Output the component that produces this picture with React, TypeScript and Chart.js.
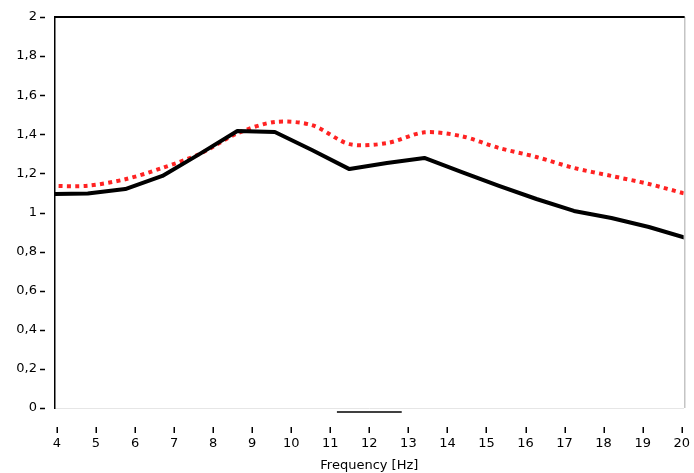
import React, { useEffect, useRef } from 'react';
import { Chart, registerables } from 'chart.js';

Chart.register(...registerables);

// Frequencies (Hz) of the sample points
const FREQ_HZ = [3.83, 4.79, 5.75, 6.70, 7.66, 8.62, 9.58, 10.53, 11.49, 12.45, 13.41, 14.37, 15.32, 16.28, 17.24, 18.20, 19.16, 20.11];
// Solid black series
const SOLID_BLACK = [1.095, 1.097, 1.12, 1.187, 1.30, 1.417, 1.412, 1.32, 1.222, 1.253, 1.279, 1.207, 1.136, 1.069, 1.008, 0.972, 0.926, 0.87];
// Dotted red series
const DOTTED_RED = [1.136, 1.137, 1.17, 1.228, 1.30, 1.405, 1.463, 1.447, 1.35, 1.355, 1.41, 1.39, 1.33, 1.284, 1.228, 1.187, 1.146, 1.095];
// Small black bar under the plot
const BAR_X = [11.17, 12.83];
const BAR_Y = [-0.02, -0.02];

const X_MIN = 3.95;
const X_MAX = 20.05;
const Y_MIN = 0;
const Y_MAX = 2;
const Y_STEP = 0.2;
const X_STEP = 1;
const X_TITLE = 'Frequency [Hz]';

const FONT = { family: "'DejaVu Sans', Verdana, sans-serif", size: 13 };

const framePlugin = {
  id: 'frame',
  beforeDatasetsDraw(chart: any) {
    const { ctx, chartArea } = chart;
    const { left, top, right, bottom } = chartArea;
    ctx.save();
    ctx.fillStyle = '#c4c4c4';
    ctx.fillRect(Math.round(right), top, 1.5, bottom - top);
    ctx.fillStyle = '#000';
    ctx.fillRect(left, top - 1, right - left + 1, 2);
    ctx.restore();
  },
  afterDraw(chart: any) {
    const { ctx, chartArea } = chart;
    const xs = chart.scales.x;
    const ys = chart.scales.y;
    ctx.save();
    ctx.fillStyle = '#000';
    for (const t of ys.ticks) {
      const y = Math.round(ys.getPixelForValue(t.value));
      ctx.fillRect(Math.round(chartArea.left) - 15, y - 0.25, 5, 1.5);
    }
    for (const t of xs.ticks) {
      const x = Math.round(xs.getPixelForValue(t.value));
      ctx.fillRect(x - 0.5, Math.round(chartArea.bottom) + 19, 1.5, 6);
    }
    ctx.restore();
  },
};

export default function App() {
  const ref = useRef<HTMLCanvasElement | null>(null);

  useEffect(() => {
    if (!ref.current) return;
    const toPts = (xs: number[], ys: number[]) => xs.map((x, i) => ({ x, y: ys[i] }));
    const chart = new Chart(ref.current, {
      type: 'line',
      data: {
        datasets: [
          {
            label: 'solid',
            data: toPts(FREQ_HZ, SOLID_BLACK),
            borderColor: '#000000',
            borderWidth: 4,
            pointRadius: 0,
            tension: 0,
            borderJoinStyle: 'round',
          },
          {
            label: 'dotted',
            data: toPts(FREQ_HZ, DOTTED_RED),
            borderColor: '#ff2222',
            borderWidth: 4,
            borderDash: [4, 4.3],
            pointRadius: 0,
            tension: 0.3,
          },
          {
            label: 'bar',
            data: toPts(BAR_X, BAR_Y),
            borderColor: '#000000',
            borderWidth: 1.5,
            pointRadius: 0,
            clip: false as any,
          },
        ],
      },
      options: {
        animation: false,
        responsive: true,
        maintainAspectRatio: false,
        layout: { padding: { top: 17, right: 8, left: 0, bottom: 0 } },
        plugins: { legend: { display: false }, tooltip: { enabled: false } },
        scales: {
          x: {
            type: 'linear',
            min: X_MIN,
            max: X_MAX,
            afterFit: (s: any) => { s.height = 65; },
            ticks: {
              stepSize: X_STEP,
              includeBounds: false,
              color: '#000',
              font: FONT,
              padding: 4,
              maxRotation: 0,
              autoSkip: false,
            },
            grid: {
              display: true,
              drawOnChartArea: false,
              drawTicks: true,
              tickLength: 24,
              tickColor: 'rgba(0,0,0,0)',
            },
            border: { display: true, color: '#e6e6e6', width: 1 },
            title: {
              display: true,
              text: X_TITLE,
              color: '#000',
              font: FONT,
              padding: { top: 2, bottom: 0 },
            },
          },
          y: {
            type: 'linear',
            min: Y_MIN,
            max: Y_MAX,
            afterFit: (s: any) => { s.width = 55; },
            ticks: {
              stepSize: Y_STEP,
              color: '#000',
              font: FONT,
              padding: 3,
              callback: (v: any) => String(Number(Number(v).toFixed(1))).replace('.', ','),
            },
            grid: {
              display: true,
              drawOnChartArea: false,
              drawTicks: true,
              tickLength: 15,
              tickColor: 'rgba(0,0,0,0)',
            },
            border: { display: true, color: '#000', width: 1.5 },
          },
        },
      },
      plugins: [framePlugin],
    });
    return () => chart.destroy();
  }, []);

  return (
    <div style={{ position: 'fixed', left: 0, top: 0, width: 694, height: 473, background: '#fff' }}>
      <canvas ref={ref} />
    </div>
  );
}
